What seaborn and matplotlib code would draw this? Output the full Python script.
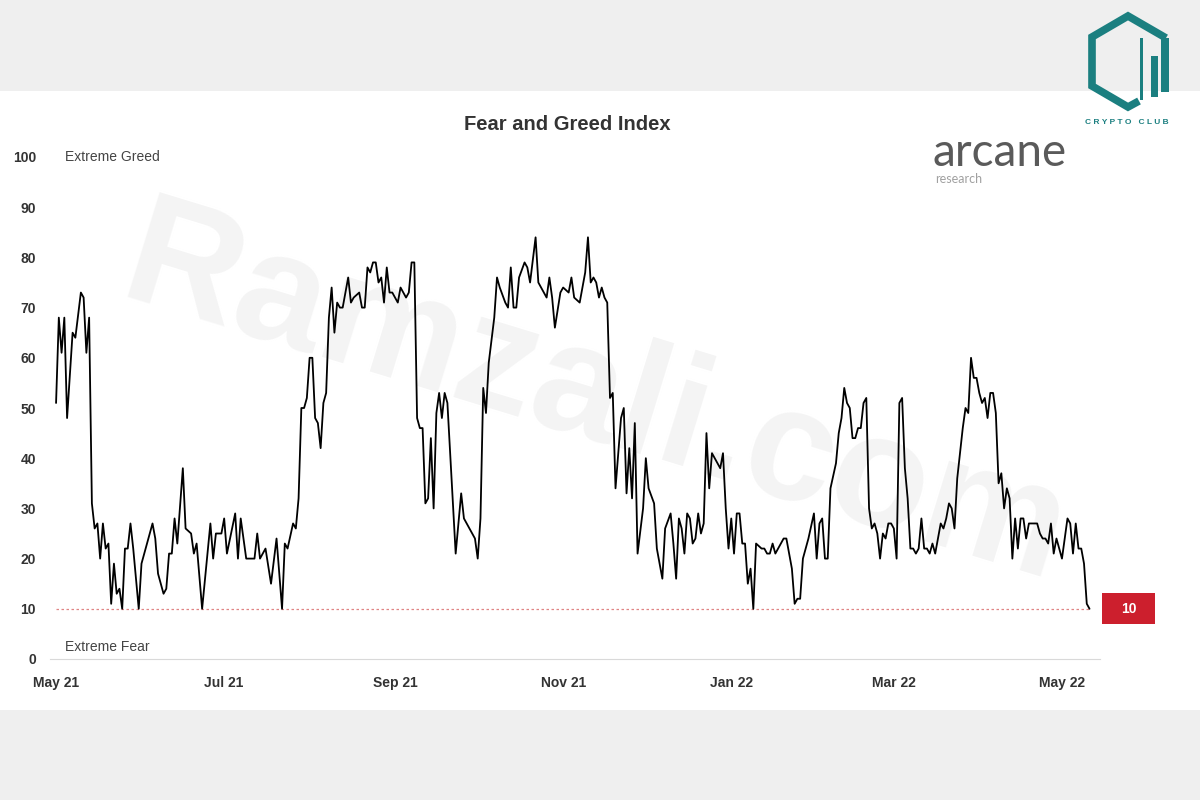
import matplotlib
matplotlib.use('Agg')
import matplotlib.pyplot as plt
import matplotlib.dates as mdates
from matplotlib.patches import Rectangle
import numpy as np
import pandas as pd
import seaborn as sns

# Fear and Greed Index (days counted from 1 May 2021)
start = '2021-05-01'
days = [0, 1, 2, 3, 4, 6, 7, 9, 10, 11, 12, 13, 14, 15, 16, 17, 18, 19, 20, 21,
        22, 23, 24, 25, 26, 27, 28, 30, 31, 33, 35, 36, 37, 39, 40, 41, 42, 43, 44, 46,
        47, 49, 50, 51, 53, 56, 57, 58, 60, 61, 62, 65, 66, 67, 69, 72, 73, 74, 75, 76,
        78, 80, 82, 83, 84, 86, 87, 88, 89, 90, 91, 92, 93, 94, 95, 96, 97, 98, 99, 100,
        101, 102, 103, 104, 106, 107, 108, 110, 111, 112, 113, 114, 115, 116, 117, 118, 119, 120, 121, 122,
        124, 125, 126, 127, 128, 129, 130, 131, 132, 133, 134, 135, 136, 137, 138, 139, 140, 141, 142, 145,
        147, 148, 150, 152, 153, 154, 155, 156, 157, 159, 160, 161, 163, 164, 165, 166, 167, 168, 170, 171,
        172, 174, 175, 176, 178, 179, 180, 181, 183, 184, 186, 187, 188, 190, 191, 192, 193, 194, 195, 196,
        197, 198, 199, 200, 201, 202, 203, 205, 206, 207, 208, 209, 210, 211, 213, 214, 215, 217, 218, 220,
        221, 223, 224, 225, 226, 227, 228, 229, 230, 231, 232, 233, 234, 235, 236, 237, 238, 239, 241, 242,
        243, 244, 245, 246, 247, 248, 249, 250, 251, 252, 253, 254, 256, 257, 258, 259, 260, 261, 263, 264,
        265, 267, 268, 269, 270, 271, 272, 273, 275, 276, 277, 278, 279, 280, 281, 283, 284, 285, 286, 287,
        288, 289, 290, 291, 292, 293, 294, 295, 296, 297, 298, 299, 300, 301, 302, 303, 304, 305, 306, 307,
        308, 309, 310, 311, 312, 313, 314, 315, 316, 317, 318, 319, 320, 321, 322, 323, 324, 325, 326, 327,
        329, 330, 331, 332, 333, 334, 335, 336, 337, 338, 339, 340, 341, 342, 343, 344, 345, 346, 347, 348,
        349, 350, 351, 352, 353, 355, 356, 357, 358, 359, 360, 361, 362, 363, 364, 365, 366, 367, 368, 369,
        370, 371, 372, 373, 374, 375]
fng = [51, 68, 61, 68, 48, 65, 64, 73, 72, 61, 68, 31, 26, 27, 20, 27, 22, 23, 11, 19,
       13, 14, 10, 22, 22, 27, 22, 10, 19, 23, 27, 24, 17, 13, 14, 21, 21, 28, 23, 38,
       26, 25, 21, 23, 10, 27, 20, 25, 25, 28, 21, 29, 20, 28, 20, 20, 25, 20, 21, 22,
       15, 24, 10, 23, 22, 27, 26, 32, 50, 50, 52, 60, 60, 48, 47, 42, 51, 53, 68, 74,
       65, 71, 70, 70, 76, 71, 72, 73, 70, 70, 78, 77, 79, 79, 75, 76, 71, 78, 73, 73,
       71, 74, 73, 72, 73, 79, 79, 48, 46, 46, 31, 32, 44, 30, 49, 53, 48, 53, 51, 21,
       33, 28, 26, 24, 20, 28, 54, 49, 59, 68, 76, 74, 71, 70, 78, 70, 70, 76, 79, 78,
       75, 84, 75, 74, 72, 76, 72, 66, 73, 74, 73, 76, 72, 71, 74, 77, 84, 75, 76, 75,
       72, 74, 72, 71, 52, 53, 34, 48, 50, 33, 42, 32, 47, 21, 30, 40, 34, 31, 22, 16,
       26, 29, 23, 16, 28, 26, 21, 29, 28, 23, 24, 29, 25, 27, 45, 34, 41, 40, 38, 41,
       30, 22, 28, 21, 29, 29, 23, 23, 15, 18, 10, 23, 22, 22, 21, 21, 23, 21, 23, 24,
       24, 18, 11, 12, 12, 20, 22, 24, 29, 20, 27, 28, 20, 20, 34, 39, 45, 48, 54, 51,
       50, 44, 44, 46, 46, 51, 52, 30, 26, 27, 25, 20, 25, 24, 27, 27, 26, 20, 51, 52,
       38, 32, 22, 22, 21, 22, 28, 22, 22, 21, 23, 21, 24, 27, 26, 28, 31, 30, 26, 36,
       46, 50, 49, 60, 56, 56, 53, 51, 52, 48, 53, 53, 49, 35, 37, 30, 34, 32, 20, 28,
       22, 28, 28, 24, 27, 27, 27, 25, 24, 24, 23, 27, 21, 24, 22, 20, 24, 28, 27, 21,
       27, 22, 22, 19, 11, 10]
month_ticks = pd.date_range('2021-05-01', '2022-05-01', freq='2MS')
y_ticks = list(range(0, 101, 10))

sns.set_style('white')
plt.rcParams['font.family'] = ['Liberation Sans', 'DejaVu Sans']

df = pd.DataFrame({'date': pd.Timestamp(start) + pd.to_timedelta(days, unit='D'),
                   'index': fng})

fig = plt.figure(figsize=(12, 8), dpi=100, facecolor='#efefef')

# backdrop, watermark and logos in pixel coordinates
bg = fig.add_axes([0, 0, 1, 1], zorder=0)
bg.set_xlim(0, 1200)
bg.set_ylim(800, 0)
bg.axis('off')
bg.add_patch(Rectangle((0, 91), 1200, 619, fc='white', ec='none'))
bg.text(595, 400, 'Ramzali.com', rotation=-17, ha='center', va='center',
        fontsize=115, fontweight='bold', color='#f4f4f4')

teal = '#1b7f80'
bg.plot([1166, 1128, 1092, 1092, 1128, 1139], [38, 16, 37, 86, 107, 101],
        color=teal, lw=5.5, solid_joinstyle='miter', solid_capstyle='butt')
bg.add_patch(Rectangle((1161, 38), 8, 54, fc=teal, ec='none'))
bg.add_patch(Rectangle((1151, 56), 7, 41, fc=teal, ec='none'))
bg.add_patch(Rectangle((1140, 38), 3, 62, fc=teal, ec='none'))
bg.text(1127, 123, 'C R Y P T O   C L U B', ha='center', va='center', fontsize=6,
        fontweight='bold', color=teal)

bg.text(933, 166, 'arcane', fontsize=33, family=['Lato', 'DejaVu Sans'],
        color='#5a5a5a', va='baseline')
bg.text(935, 183, 'research', fontsize=9, family=['Lato', 'DejaVu Sans'],
        color='#a0a0a0', va='baseline')

fig.text(567 / 1200, 1 - 124 / 800, 'Fear and Greed Index', ha='center', va='center',
         fontsize=14.5, fontweight='bold', color='#333333')

ax = fig.add_axes([50 / 1200, 141 / 800, 1050 / 1200, 502 / 800], zorder=1)
ax.patch.set_alpha(0)

sns.lineplot(data=df, x='date', y='index', ax=ax, color='black', linewidth=1.3)
ax.hlines(10, df['date'].iloc[0], df['date'].iloc[-1], colors='#e08585',
          linestyles=(0, (2, 2)), linewidth=0.9, zorder=1)

ax.set_ylim(0, 100)
ax.set_yticks(y_ticks)
ax.set_xlim(pd.Timestamp(start) - pd.Timedelta(days=2.2),
            pd.Timestamp(start) + pd.Timedelta(days=378.8))
ax.set_xticks(month_ticks)
ax.xaxis.set_major_formatter(mdates.DateFormatter('%b %y'))
ax.set_xlabel('')
ax.set_ylabel('')

for side in ['top', 'right', 'left']:
    ax.spines[side].set_visible(False)
ax.spines['bottom'].set_color('#d9d9d9')
ax.tick_params(axis='y', length=0, pad=10, labelsize=10, labelcolor='#333333')
ax.tick_params(axis='x', length=3, direction='in', color='#d9d9d9', pad=12,
               labelsize=10, labelcolor='#333333')
plt.setp(ax.get_xticklabels() + ax.get_yticklabels(), fontweight='bold')

ax.text(0.014, 100, 'Extreme Greed', transform=ax.get_yaxis_transform(),
        ha='left', va='center', fontsize=10, color='#444444')
ax.text(0.014, 2.4, 'Extreme Fear', transform=ax.get_yaxis_transform(),
        ha='left', va='center', fontsize=10, color='#444444')

ax.annotate(f'{fng[-1]}', xy=(df['date'].iloc[-1], fng[-1]), xytext=(39, 0),
            textcoords='offset pixels', ha='center', va='center', fontsize=10,
            fontweight='bold', color='white', annotation_clip=False,
            bbox=dict(boxstyle='square,pad=1.35', fc='#cc1f2d', ec='none',
                      mutation_aspect=0.45))

fig.savefig('out.png', dpi=100, facecolor=fig.get_facecolor())
